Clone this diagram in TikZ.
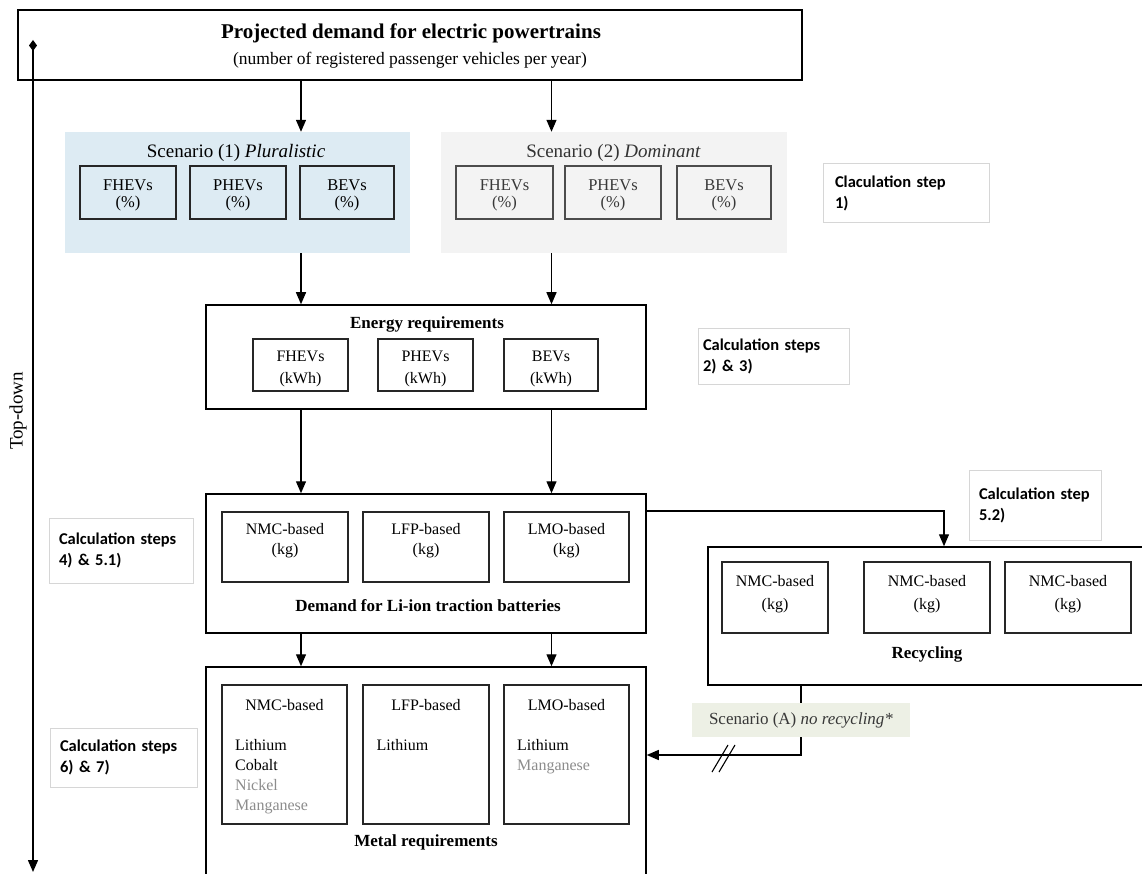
\documentclass[tikz,border=0pt]{standalone}
\usepackage{fontspec}
\setmainfont{Liberation Serif}
\newfontfamily\calib{Carlito}
\usetikzlibrary{arrows.meta,calc}
\definecolor{sonefill}{RGB}{221,235,243}
\definecolor{stwofill}{RGB}{243,243,243}
\definecolor{labelA}{RGB}{237,240,229}
\definecolor{calcgray}{RGB}{214,214,214}
\definecolor{softgray}{RGB}{140,140,140}
\begin{document}
\begin{tikzpicture}[x=1pt,y=-1pt,
  bigbox/.style={draw=black, line width=1.5pt, inner sep=0pt},
  ibox/.style={draw=black!85, line width=1.4pt, inner sep=0pt},
  gbox/.style={draw=black!70, line width=1.4pt, inner sep=0pt},
  txt/.style={inner sep=0pt, align=center, font=\fontsize{16.5}{17}\selectfont},
  ttl/.style={inner sep=0pt, font=\fontsize{17}{20}\selectfont\bfseries},
  item/.style={inner sep=0pt, anchor=base west, font=\fontsize{16}{18}\selectfont},
  calcbox/.style={draw=calcgray, line width=1pt, fill=white, inner ysep=0pt, align=left, font=\calib\bfseries\fontsize{16.5}{21}\selectfont},
  arr/.style={line width=1.3pt, -{Triangle[length=12pt,width=10pt]}},
]
\useasboundingbox (0,0) rectangle (1142,874);
\clip (0,0) rectangle (1142,874);

% ---------- top box
\node[bigbox, minimum width=784, minimum height=70] (top) at (410,45) {};
\node[inner sep=0pt, font=\fontsize{21}{24}\selectfont\bfseries] (topt) at (411,33) {Projected demand for electric powertrains};
\node[inner sep=0pt, font=\fontsize{17.5}{20}\selectfont] (tops) at (410,60) {(number of registered passenger vehicles per year)};

% ---------- scenario 1
\node[fill=sonefill, minimum width=345, minimum height=121, inner sep=0pt] (s1) at (237.5,192.5) {};
\node[inner sep=0pt, font=\fontsize{19}{20}\selectfont] (s1t) at (236,153) {Scenario (1) \textit{Pluralistic}};
\node[ibox, minimum width=96, minimum height=53] (s1a) at (128,192.5) {};
\node[ibox, minimum width=96, minimum height=53] (s1b) at (238,192.5) {};
\node[ibox, minimum width=94, minimum height=53] (s1c) at (347,192.5) {};
\node[txt] (s1at) at (128,195) {FHEVs\\(\%)};
\node[txt] (s1bt) at (238,195) {PHEVs\\(\%)};
\node[txt] (s1ct) at (347,195) {BEVs\\(\%)};

% ---------- scenario 2
\node[fill=stwofill, minimum width=346, minimum height=121, inner sep=0pt] (s2) at (614,192.5) {};
\node[inner sep=0pt, font=\fontsize{19}{20}\selectfont, text=black!80] (s2t) at (613.5,153) {Scenario (2) \textit{Dominant}};
\node[gbox, minimum width=97, minimum height=53] (s2a) at (504.5,192.5) {};
\node[gbox, minimum width=96, minimum height=53] (s2b) at (613,192.5) {};
\node[gbox, minimum width=94, minimum height=53] (s2c) at (724,192.5) {};
\node[txt, text=black!78] (s2at) at (504.5,195) {FHEVs\\(\%)};
\node[txt, text=black!78] (s2bt) at (613,195) {PHEVs\\(\%)};
\node[txt, text=black!78] (s2ct) at (724,195) {BEVs\\(\%)};

% ---------- energy requirements
\node[bigbox, minimum width=440, minimum height=104] (en) at (426,357) {};
\node[ttl] (ent) at (427,324) {Energy requirements};
\node[ibox, minimum width=95, minimum height=52] (ea) at (300.5,365) {};
\node[ibox, minimum width=95, minimum height=52] (eb) at (425.5,365) {};
\node[ibox, minimum width=94, minimum height=52] (ec) at (551,365) {};
\node[txt, font=\fontsize{16}{22}\selectfont] (eat) at (300.5,369) {FHEVs\\(kWh)};
\node[txt, font=\fontsize{16}{22}\selectfont] (ebt) at (425.5,369) {PHEVs\\(kWh)};
\node[txt, font=\fontsize{16}{22}\selectfont] (ect) at (551,369) {BEVs\\(kWh)};

% ---------- batteries
\node[bigbox, minimum width=440, minimum height=139] (bat) at (426,563.5) {};
\node[ttl] (batt) at (428,606) {Demand for Li-ion traction batteries};
\node[ibox, minimum width=126, minimum height=70] (ba) at (285,547) {};
\node[ibox, minimum width=126, minimum height=70] (bb) at (426,547) {};
\node[ibox, minimum width=125, minimum height=70] (bc) at (566.5,547) {};
\node[txt, font=\fontsize{16}{20}\selectfont] (bat1) at (285,541) {NMC-based\\(kg)};
\node[txt, font=\fontsize{16}{20}\selectfont] (bat2) at (426,541) {LFP-based\\(kg)};
\node[txt, font=\fontsize{16}{20}\selectfont] (bat3) at (566.5,541) {LMO-based\\(kg)};

% ---------- recycling
\node[bigbox, minimum width=452, minimum height=138] (rec) at (934,616) {};
\node[ttl] (rect) at (927,654) {Recycling};
\node[ibox, minimum width=106, minimum height=71] (ra) at (775,597.5) {};
\node[ibox, minimum width=126, minimum height=71] (rb) at (927,597.5) {};
\node[ibox, minimum width=126, minimum height=71] (rc) at (1068,597.5) {};
\node[txt, font=\fontsize{16}{23}\selectfont] (rat) at (775,594.5) {NMC-based\\(kg)};
\node[txt, font=\fontsize{16}{23}\selectfont] (rbt) at (927,594.5) {NMC-based\\(kg)};
\node[txt, font=\fontsize{16}{23}\selectfont] (rct) at (1068,594.5) {NMC-based\\(kg)};

% ---------- metal requirements
\node[bigbox, minimum width=440, minimum height=223] (met) at (426,778.5) {};
\node[ttl] (mett) at (426,842) {Metal requirements};
\node[ibox, minimum width=125, minimum height=139] (ma) at (284.5,754.5) {};
\node[ibox, minimum width=126, minimum height=139] (mb) at (426,754.5) {};
\node[ibox, minimum width=125, minimum height=139] (mc) at (566.5,754.5) {};
\node[item, anchor=base] (mah) at (284.5,710) {NMC-based};
\node[item, anchor=base] (mbh) at (426,710) {LFP-based};
\node[item, anchor=base] (mch) at (566.5,710) {LMO-based};
\node[item] (ma1) at (235,750) {Lithium};
\node[item] (ma2) at (235,770) {Cobalt};
\node[item, text=softgray] (ma3) at (235,790) {Nickel};
\node[item, text=softgray] (ma4) at (235,810) {Manganese};
\node[item] (mb1) at (376.5,750) {Lithium};
\node[item] (mc1) at (517,750) {Lithium};
\node[item, text=softgray] (mc2) at (517,770) {Manganese};

% ---------- calculation step boxes
\node[calcbox, minimum width=166, minimum height=59, text width=142, inner xsep=12pt] (c1) at (906,193.5) {Claculation step\\1)};
\node[calcbox, minimum width=151, minimum height=56, text width=141, inner xsep=5pt] (c23) at (773.5,356) {Calculation steps\\2) \& 3)};
\node[calcbox, minimum width=144, minimum height=65, text width=124, inner xsep=10pt] (c451) at (121,550.5) {Calculation steps\\4) \& 5.1)};
\node[calcbox, minimum width=132, minimum height=70, text width=112, inner xsep=10pt] (c52) at (1035,505) {Calculation step\\5.2)};
\node[calcbox, minimum width=147, minimum height=59, text width=127, inner xsep=10pt] (c67) at (123.5,757.5) {Calculation steps\\6) \& 7)};

% ---------- connectors
\coordinate (xL) at (301,0);
\coordinate (xR) at (551.5,0);
\draw[arr] (top.south -| xL) -- (s1.north -| xL);
\draw[arr] (top.south -| xR) -- (s2.north -| xR);
\draw[arr] (s1.south -| xL) -- (en.north -| xL);
\draw[arr] (s2.south -| xR) -- (en.north -| xR);
\draw[arr] (en.south -| xL) -- (bat.north -| xL);
\draw[arr] (en.south -| xR) -- (bat.north -| xR);
\draw[arr] (bat.south -| xL) -- (met.north -| xL);
\draw[arr] (bat.south -| xR) -- (met.north -| xR);

\coordinate (kR) at (944,511);
\draw[arr] (bat.east |- kR) -| (rec.north -| kR);

\coordinate (kA) at (801,755);
\draw[arr] (rec.south -| kA) |- (met.east |- kA);
\draw[line width=1.1pt] (712,772) -- (728,745);
\draw[line width=1.1pt] (719,772) -- (735,745);
\node[fill=labelA, minimum width=218, minimum height=34, inner sep=0pt, font=\fontsize{17}{20}\selectfont, text=black!78] (scA) at (801,720) {Scenario (A) \textit{no recycling*}};

% ---------- top-down axis
\coordinate (tdS) at (33,40);
\coordinate (tdE) at (33,872);
\draw[line width=1.4pt, {Diamond[length=11pt,width=8pt]}-{Triangle[length=12pt,width=10pt]}] (tdS) -- (tdE);
\node[rotate=90, inner sep=0pt, font=\fontsize{19}{20}\selectfont] (td) at (18,411) {Top-down};
\end{tikzpicture}
\end{document}
